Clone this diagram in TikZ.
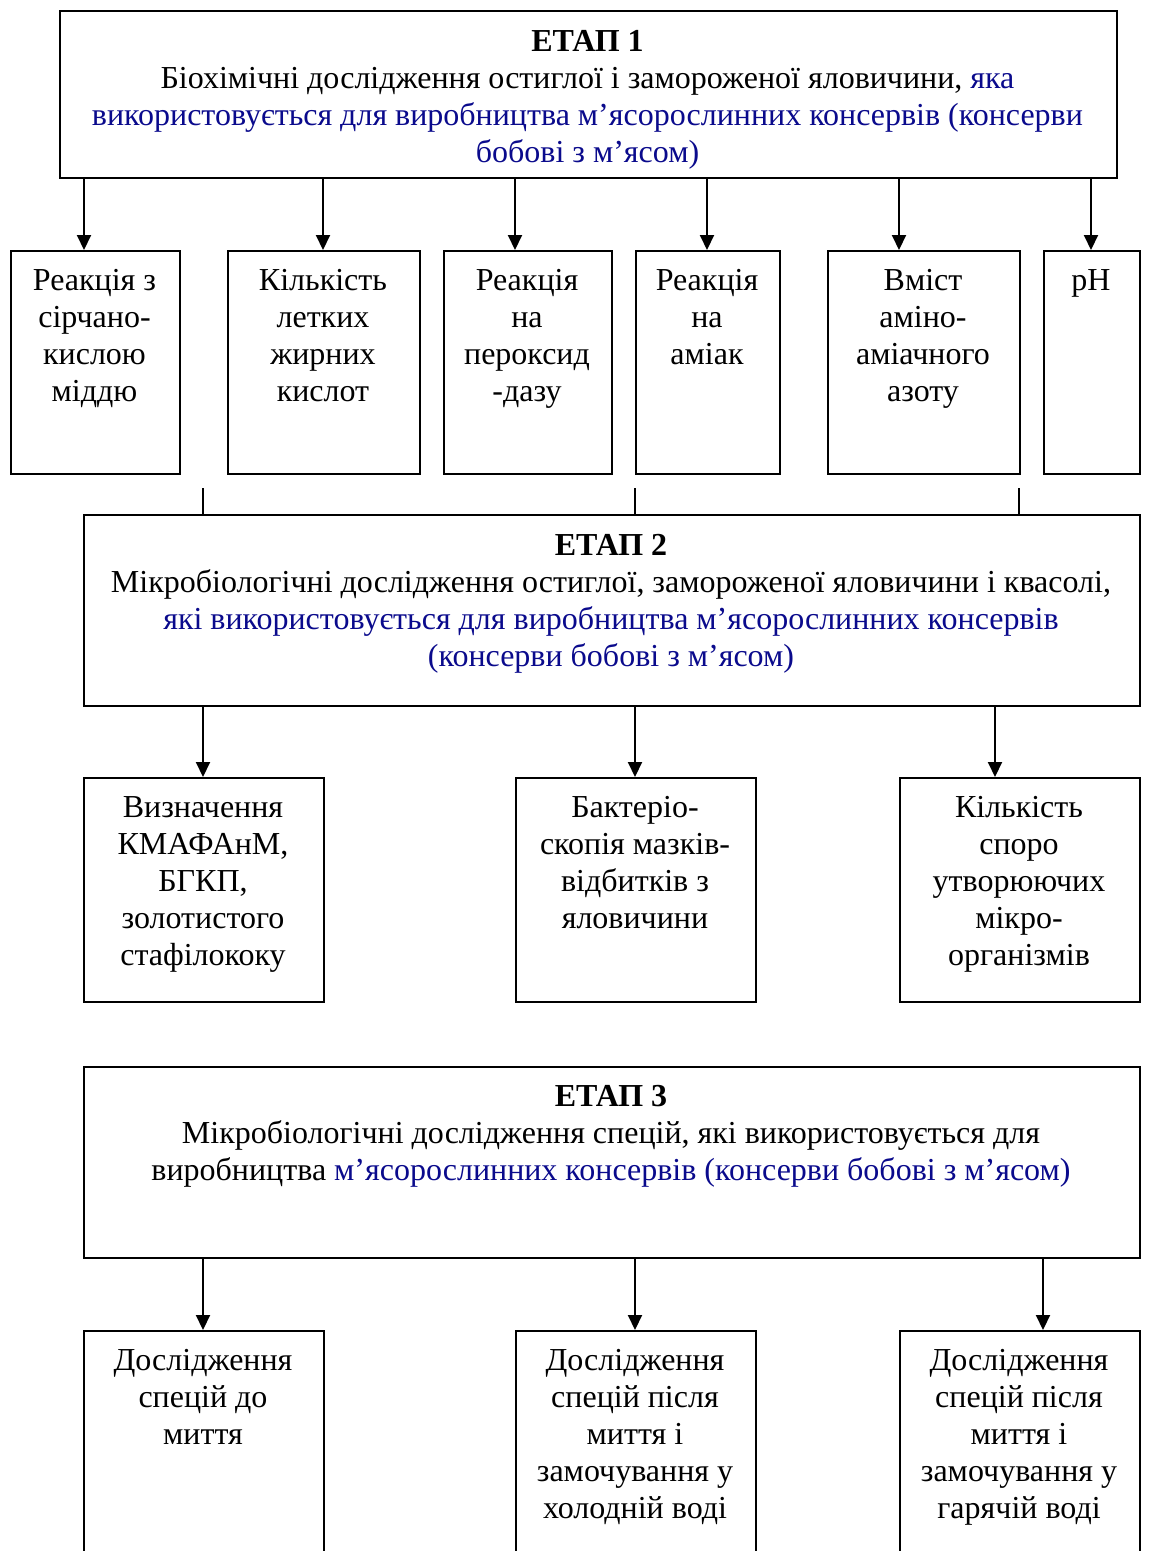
\documentclass[tikz,border=0pt]{standalone}
\usepackage{fontspec}
\setmainfont{Liberation Serif}
\usetikzlibrary{arrows.meta}
\definecolor{navy}{RGB}{10,10,140}
\begin{document}
\begin{tikzpicture}[x=1pt,y=-1pt,
  box/.style={draw, line width=2pt, inner sep=0pt, anchor=north west},
  txt/.style={anchor=north, inner sep=0pt, align=center, font=\fontsize{32}{37}\selectfont},
  arr/.style={line width=2pt, -{Triangle[length=15pt,width=14pt]}},
  ln/.style={line width=2pt}]
\useasboundingbox (0,0) rectangle (1163,1551);
\clip (0,0) rectangle (1163,1551);
% ---------- ETAP 1
\node[box, minimum width=1057pt, minimum height=167pt] (e1) at (59,10) {};
\node[txt] (t1) at (587.5,25) {\strut\textbf{ЕТАП 1}\\
Біохімічні дослідження остиглої і замороженої яловичини, \textcolor{navy}{яка}\\
\textcolor{navy}{використовується для виробництва м’ясорослинних консервів (консерви}\\
\textcolor{navy}{бобові з м’ясом)}};
% row 1
\node[box, minimum width=169pt, minimum height=223pt] (a1) at (10,250) {};
\node[box, minimum width=192pt, minimum height=223pt] (a2) at (227,250) {};
\node[box, minimum width=168pt, minimum height=223pt] (a3) at (443,250) {};
\node[box, minimum width=144pt, minimum height=223pt] (a4) at (635,250) {};
\node[box, minimum width=192pt, minimum height=223pt] (a5) at (827,250) {};
\node[box, minimum width=96pt, minimum height=223pt] (a6) at (1043,250) {};
\node[txt] (ta1) at (94.5,264) {\strut Реакція з\\сірчано-\\кислою\\міддю};
\node[txt] (ta2) at (323,264) {\strut Кількість\\летких\\жирних\\кислот};
\node[txt] (ta3) at (527,264) {\strut Реакція\\на\\пероксид\\-дазу};
\node[txt] (ta4) at (707,264) {\strut Реакція\\на\\аміак};
\node[txt] (ta5) at (923,264) {\strut Вміст\\аміно-\\аміачного\\азоту};
\node[txt] (ta6) at (1091,264) {\strut pH};
\foreach \n/\x in {1/84,2/323,3/515,4/707,5/899,6/1091}{
  \coordinate (xa\n) at (\x,0);
  \draw[arr] (e1.south -| xa\n) -- (a\n.north -| xa\n);
}
% ---------- ETAP 2
\node[box, minimum width=1056pt, minimum height=191pt] (e2) at (83,514) {};
\node[txt] (t2) at (611,529) {\strut\textbf{ЕТАП 2}\\
Мікробіологічні дослідження остиглої, замороженої яловичини і квасолі,\\
\textcolor{navy}{які використовується для виробництва м’ясорослинних консервів}\\
\textcolor{navy}{(консерви бобові з м’ясом)}};
\foreach \n/\x in {1/203,2/635,3/1019}{
  \coordinate (ua\n) at (\x,488);
  \draw[ln] (ua\n) -- (e2.north -| ua\n);
}
% row 2
\node[box, minimum width=240pt, minimum height=224pt] (b1) at (83,777) {};
\node[box, minimum width=240pt, minimum height=224pt] (b2) at (515,777) {};
\node[box, minimum width=240pt, minimum height=224pt] (b3) at (899,777) {};
\node[txt] (tb1) at (203,791) {\strut Визначення\\КМАФАнМ,\\БГКП,\\золотистого\\стафілококу};
\node[txt] (tb2) at (635,791) {\strut Бактеріо-\\скопія мазків-\\відбитків з\\яловичини};
\node[txt] (tb3) at (1019,791) {\strut Кількість\\споро\\утворюючих\\мікро-\\організмів};
\foreach \n/\x in {1/203,2/635,3/995}{
  \coordinate (xb\n) at (\x,0);
  \draw[arr] (e2.south -| xb\n) -- (b\n.north -| xb\n);
}
% ---------- ETAP 3
\node[box, minimum width=1056pt, minimum height=191pt] (e3) at (83,1066) {};
\node[txt] (t3) at (611,1080) {\strut\textbf{ЕТАП 3}\\
Мікробіологічні дослідження спецій, які використовується для\\
виробництва \textcolor{navy}{м’ясорослинних консервів (консерви бобові з м’ясом)}};
% row 3
\node[box, minimum width=240pt, minimum height=260pt] (c1) at (83,1330) {};
\node[box, minimum width=240pt, minimum height=260pt] (c2) at (515,1330) {};
\node[box, minimum width=240pt, minimum height=260pt] (c3) at (899,1330) {};
\node[txt] (tc1) at (203,1344) {\strut Дослідження\\спецій до\\миття};
\node[txt] (tc2) at (635,1344) {\strut Дослідження\\спецій після\\миття і\\замочування у\\холодній воді};
\node[txt] (tc3) at (1019,1344) {\strut Дослідження\\спецій після\\миття і\\замочування у\\гарячій воді};
\foreach \n/\x in {1/203,2/635,3/1043}{
  \coordinate (xc\n) at (\x,0);
  \draw[arr] (e3.south -| xc\n) -- (c\n.north -| xc\n);
}
\end{tikzpicture}
\end{document}
